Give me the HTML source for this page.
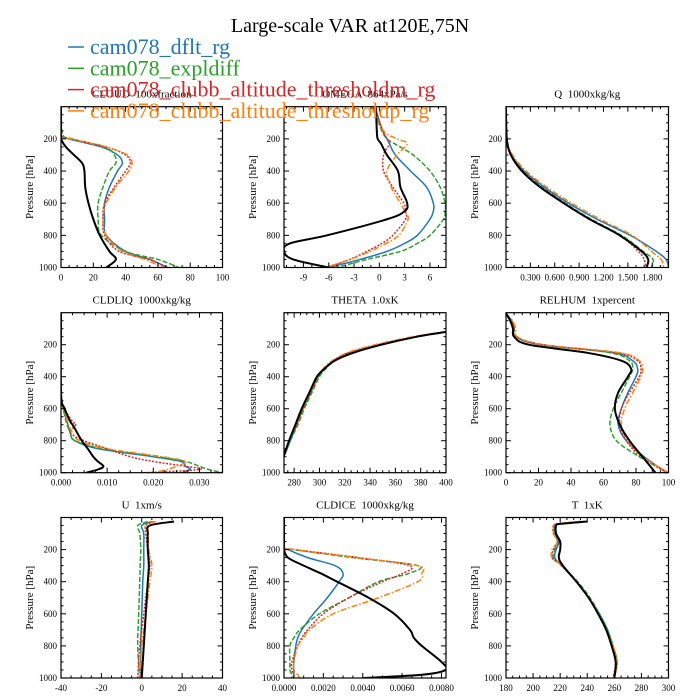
<!DOCTYPE html>
<html><head><meta charset="utf-8"><style>
html,body{margin:0;padding:0;background:#fff;}
svg{display:block;font-family:"Liberation Serif",serif;}
text{white-space:pre;}
</style></head><body>
<svg id="chart" width="700" height="700" viewBox="0 0 700 700">
<text x="350" y="32" text-anchor="middle" font-size="20">Large-scale VAR at120E,75N</text>
<g id="panels"></g>
<g id="legend"></g>
</svg>
<script>
const seriesNames = ["cam078_dflt_rg","cam078_expldiff","cam078_clubb_altitude_thresholdm_rg","cam078_clubb_altitude_thresholdp_rg","obs"];
const seriesColors = ["#1f77b4","#2ca02c","#d62728","#ff7f0e","#000000"];
const seriesDash = ["", "5,2", "2,1.5", "6,2,1.5,2", ""];
const seriesWidth = [1.5,1.5,1.5,1.5,2];

// CLOUD
const cloudP = [5,170,200,250,300,350,400,500,600,700,800,900,950,1000];
const cloudBlue = [0,0,5,25,35,38,35,30,27,27,28,40,55,66];
const cloudGreen = [0,1,7,27,33,34,30,26,23,23,25,40,60,73];
const cloudRed = [0,0,6,28,40,43,40,33,27,26,27,36,55,65];
const cloudOrange = [0,0,6,28,41,44,42,34,28,26,28,38,52,63];
const cloudBlack = [0,0,0,3,8,13,14.5,15,17,20,24,30,34,28];
// OMEGA
const omegaP = [5,150,200,230,300,400,500,600,650,700,800,850,900,950,1000];
const omegaBlue = [-0.5,0.4,0.9,1.2,1.9,3.7,5.6,6.4,6.4,6.0,4.5,3.0,0.9,-2.3,-6.0];
const omegaGreen = [-0.8,0.3,0.9,1.8,4.0,6.0,7.2,7.8,7.8,7.6,6.0,4.5,2.5,-1.5,-5.0];
const omegaRed = [-0.7,0.4,0.9,1.2,0.5,0.5,1.6,2.9,3.1,3.1,1.6,0.3,-1.5,-3.5,-6.2];
const omegaOrange = [-0.9,0.5,2.1,3.3,2.1,0.9,1.4,2.5,3.0,3.4,2.3,0.8,-1.1,-3.5,-6.4];
const omegaBlack = [-0.4,-0.3,-0.2,0.2,0.9,2.2,2.5,3.3,3.0,0.9,-6.2,-10.6,-11.3,-10.2,-6.0];
// Q
const qP = [5,200,300,400,500,600,700,800,900,950,1000];
const qBlue = [0,0.01,0.07,0.225,0.47,0.77,1.12,1.53,1.85,1.97,2.0];
const qGreen = [0,0.01,0.065,0.208,0.44,0.73,1.05,1.42,1.69,1.81,1.79];
const qRed = [0,0.01,0.06,0.196,0.43,0.72,1.04,1.40,1.63,1.70,1.72];
const qOrange = [0,0.01,0.08,0.249,0.50,0.81,1.16,1.55,1.79,1.91,1.94];
const qBlack = [0,0.01,0.06,0.196,0.42,0.71,1.03,1.40,1.67,1.75,1.73];
// CLDLIQ
const liqP = [5,500,600,680,700,750,800,850,900,930,960,980,1000];
const liqBlue = [0,0,0.0005,0.0013,0.0015,0.002,0.003,0.008,0.020,0.026,0.027,0.028,0.026];
const liqGreen = [0,0,0.0005,0.0011,0.0013,0.002,0.003,0.009,0.021,0.027,0.030,0.032,0.035];
const liqRed = [0,0,0.0008,0.0025,0.0032,0.002,0.005,0.010,0.015,0.020,0.027,0.030,0.018];
const liqOrange = [0,0,0.0006,0.0014,0.0016,0.0025,0.004,0.010,0.022,0.027,0.025,0.023,0.020];
const liqBlack = [0,0,0.0008,0.002,0.0025,0.0035,0.0045,0.0058,0.007,0.008,0.0092,0.008,0.0055];
// THETA
const thP = [120,150,200,250,300,350,400,500,600,700,800,900,1000];
const thBlue = [400,376,347,324,311,304,299,293,287,282,277,272,267];
const thGreen = [400,376,347,324,312,305,300,294,288,283,277,272,267];
const thRed = [400,375,346,323,311,304,299,293,287,282,276,271.5,266];
const thOrange = [400,374,344,322,310,303,298.5,292.5,286.5,281.5,276,271,266];
const thBlack = [400,377,349,327,312,304,298,292,286,281,276,271.5,266];
// RELHUM
const rhP = [5,50,100,150,200,250,300,350,400,500,600,700,800,900,1000];
const rhBlue = [0,3.5,5,6,21,66,78,81,80,75,71,69,74,85,99];
const rhGreen = [0,3.5,5,6,23,64,76,78,76,71,66,64,68,82,100];
const rhRed = [0,3.5,5,6,22,68,81,83,82,76,71,70,74,83,99];
const rhOrange = [0,4,6,7,23,70,82,84,83,78,73,71,75,84,100];
const rhBlack = [0,2.6,4.3,5,14,49.6,71,77,75,69,67,70,76,84,92];
// U
const uP = [25,50,100,200,300,400,600,800,1000];
const uBlue = [5,0,1,1,1,0.5,0,-0.5,-0.5];
const uGreen = [3,-2,-1,-0.5,-0.8,-1,-1.5,-2,-1];
const uRed = [6,2,2,3,4,3,1,-1,-2];
const uOrange = [7,2,3,3.5,5,4,2,0,-1];
const uBlack = [16,4,3,3,3.5,3,2,1,0];
// CLDICE
const iceP = [5,180,200,250,300,350,400,500,600,700,750,800,900,950,980,1000];
const iceBlue = [0,0,0.0002,0.0012,0.0026,0.0030,0.0028,0.0022,0.0015,0.0009,0.0007,0.0006,0.0005,0.0005,0.0005,0.0005];
const iceGreen = [0,0,0.0005,0.0035,0.0068,0.0063,0.0048,0.0033,0.0018,0.0008,0.0005,0.0003,0.0003,0.0003,0.0004,0.0004];
const iceRed = [0,0,0.0006,0.0038,0.0064,0.0060,0.0050,0.0033,0.0020,0.0012,0.0009,0.0007,0.0004,0.0004,0.0005,0.0005];
const iceOrange = [0,0,0.0005,0.0037,0.0068,0.0070,0.0068,0.0048,0.0025,0.0013,0.0010,0.0007,0.0005,0.0005,0.0007,0.0008];
const iceBlack = [0,0,0,0.0002,0.0010,0.0019,0.0027,0.0043,0.0056,0.0064,0.0066,0.0070,0.0080,0.0082,0.0070,0.0040];
// T
const tP = [25,40,50,100,150,200,250,300,400,500,600,700,800,900,1000];
const tBlue = [235,219,216,216,219,217,216,221,232,241,249,255,259,262,260];
const tGreen = [235,219,216,216,218,216,215,221,233,242,249,255,259,262,260];
const tRed = [235,218,215,215,218,215,214,221,232,241,248,254,258,261,259];
const tOrange = [235,218,215,215,218,214,214,221,232,241,248,254,259,262,260];
const tBlack = [240,220,217,217,220,220,219,222,232,241,248,254,258,261,260];

// tick labels
const cloudTicks = [0,20,40,60,80,100];
const cloudTickLabels = ["0","20","40","60","80","100"];
const omegaTicks = [-9,-6,-3,0,3,6];
const omegaTickLabels = ["-9","-6","-3","0","3","6"];
const qTicks = [0.3,0.6,0.9,1.2,1.5,1.8];
const qTickLabels = ["0.300","0.600","0.900","1.200","1.500","1.800"];
const liqTicks = [0,0.01,0.02,0.03];
const liqTickLabels = ["0.000","0.010","0.020","0.030"];
const thTicks = [280,300,320,340,360,380,400];
const thTickLabels = ["280","300","320","340","360","380","400"];
const rhTicks = [0,20,40,60,80,100];
const rhTickLabels = ["0","20","40","60","80","100"];
const uTicks = [-40,-20,0,20,40];
const uTickLabels = ["-40","-20","0","20","40"];
const iceTicks = [0,0.002,0.004,0.006,0.008];
const iceTickLabels = ["0.0000","0.0020","0.0040","0.0060","0.0080"];
const tTicks = [180,200,220,240,260,280,300];
const tTickLabels = ["180","200","220","240","260","280","300"];
const pTicks = [200,400,600,800,1000];
const pTickLabels = ["200","400","600","800","1000"];

const NS = "http://www.w3.org/2000/svg";
function mk(tag, attrs, parent){ const e=document.createElementNS(NS,tag); for(const k in attrs) e.setAttribute(k,attrs[k]); if(parent) parent.appendChild(e); return e; }
function smoothPath(pts){
  let d = "M"+pts[0][0].toFixed(2)+","+pts[0][1].toFixed(2);
  for(let i=0;i<pts.length-1;i++){
    const p0=pts[Math.max(0,i-1)], p1=pts[i], p2=pts[i+1], p3=pts[Math.min(pts.length-1,i+2)];
    const c1=[p1[0]+(p2[0]-p0[0])/6, p1[1]+(p2[1]-p0[1])/6];
    const c2=[p2[0]-(p3[0]-p1[0])/6, p2[1]-(p3[1]-p1[1])/6];
    d += " C"+c1[0].toFixed(2)+","+c1[1].toFixed(2)+" "+c2[0].toFixed(2)+","+c2[1].toFixed(2)+" "+p2[0].toFixed(2)+","+p2[1].toFixed(2);
  }
  return d;
}

const cols = [[61,222.5],[284,446],[506,668.5]];
const rows = [[106.7,267.5],[312.7,472.7],[517.5,678]];

const panelDefs = [
 {key:"cloud",title:"CLOUD  100xfraction",r:0,c:0,xmin:0,xmax:100,minor:5,P:cloudP,S:[cloudBlue,cloudGreen,cloudRed,cloudOrange,cloudBlack],ticks:cloudTicks,labels:cloudTickLabels},
 {key:"omega",title:"OMEGA  864xPa/s",r:0,c:1,xmin:-11.3,xmax:7.9,minor:1,P:omegaP,S:[omegaBlue,omegaGreen,omegaRed,omegaOrange,omegaBlack],ticks:omegaTicks,labels:omegaTickLabels},
 {key:"q",title:"Q  1000xkg/kg",r:0,c:2,xmin:0,xmax:2.0,minor:0.1,P:qP,S:[qBlue,qGreen,qRed,qOrange,qBlack],ticks:qTicks,labels:qTickLabels},
 {key:"cldliq",title:"CLDLIQ  1000xkg/kg",r:1,c:0,xmin:0,xmax:0.035,minor:0.0025,P:liqP,S:[liqBlue,liqGreen,liqRed,liqOrange,liqBlack],ticks:liqTicks,labels:liqTickLabels},
 {key:"theta",title:"THETA  1.0xK",r:1,c:1,xmin:272,xmax:400,minor:5,P:thP,S:[thBlue,thGreen,thRed,thOrange,thBlack],ticks:thTicks,labels:thTickLabels},
 {key:"relhum",title:"RELHUM  1xpercent",r:1,c:2,xmin:0,xmax:100,minor:5,P:rhP,S:[rhBlue,rhGreen,rhRed,rhOrange,rhBlack],ticks:rhTicks,labels:rhTickLabels},
 {key:"u",title:"U  1xm/s",r:2,c:0,xmin:-40,xmax:40,minor:5,P:uP,S:[uBlue,uGreen,uRed,uOrange,uBlack],ticks:uTicks,labels:uTickLabels},
 {key:"cldice",title:"CLDICE  1000xkg/kg",r:2,c:1,xmin:0,xmax:0.00823,minor:0.0005,P:iceP,S:[iceBlue,iceGreen,iceRed,iceOrange,iceBlack],ticks:iceTicks,labels:iceTickLabels},
 {key:"t",title:"T  1xK",r:2,c:2,xmin:180,xmax:300,minor:5,P:tP,S:[tBlue,tGreen,tRed,tOrange,tBlack],ticks:tTicks,labels:tTickLabels}
];

const root = document.getElementById("panels");
const defs = mk("defs",{},document.getElementById("chart"));
panelDefs.forEach(pd=>{
  const [x0,x1]=cols[pd.c], [y0,y1]=rows[pd.r];
  const xs = v => x0 + (v-pd.xmin)/(pd.xmax-pd.xmin)*(x1-x0);
  const ys = p => y0 + p/1000*(y1-y0);
  const g = mk("g",{},root);
  
  
  const cp = mk("clipPath",{id:"clip-"+pd.key},defs);
  mk("rect",{x:x0,y:y0,width:x1-x0,height:y1-y0},cp);
  const t = mk("text",{x:(x0+x1)/2,y:y0-9,"text-anchor":"middle","font-size":"11"},g);
  t.textContent = pd.title;
  
  
  const lg = mk("g",{"clip-path":"url(#clip-"+pd.key+")"},g);
  
  
  [0,1,2,3,4].forEach(si=>{
    const vals = pd.S[si];
    const pts = vals.map((v,i)=>[xs(v), ys(pd.P[i])]);
    const pl = mk("path",{d:smoothPath(pts),fill:"none",stroke:seriesColors[si],"stroke-width":seriesWidth[si],"stroke-linejoin":"round"},lg);
    if(seriesDash[si]) pl.setAttribute("stroke-dasharray",seriesDash[si]);
    
    
  });
  const fr = mk("rect",{x:x0,y:y0,width:x1-x0,height:y1-y0,fill:"none",stroke:"#000","stroke-width":"1.2"},g);
  
  
  const tg = mk("g",{stroke:"#000","stroke-width":"1"},g);
  
  
  const start = Math.ceil(pd.xmin/pd.minor);
  for(let k=start; k*pd.minor<=pd.xmax+1e-12; k++){
    const v=k*pd.minor, X=xs(v);
    const major = pd.ticks.some(tv=>Math.abs(tv-v)<pd.minor*0.01);
    const L = major?5:2.5;
    mk("line",{x1:X,y1:y1,x2:X,y2:y1-L},tg); mk("line",{x1:X,y1:y0,x2:X,y2:y0+L},tg);
  }
  for(let p=50;p<=1000;p+=50){
    const Y=ys(p); const L=(p%200===0)?5:2.5;
    mk("line",{x1:x0,y1:Y,x2:x0+L,y2:Y},tg); mk("line",{x1:x1,y1:Y,x2:x1-L,y2:Y},tg);
  }
  const xl = mk("g",{"font-size":"9","text-anchor":"middle"},g);
  
  
  pd.ticks.forEach((tv,i)=>{ const e=mk("text",{x:xs(tv),y:y1+13},xl); e.textContent=pd.labels[i]; });
  const yl = mk("g",{"font-size":"9","text-anchor":"end"},g);
  
  
  pTicks.forEach((p,i)=>{ const e=mk("text",{x:x0-4,y:ys(p)+3},yl); e.textContent=pTickLabels[i]; });
  const yt = mk("text",{x:0,y:0,"font-size":"11","text-anchor":"middle",transform:"translate("+(x0-28)+","+((y0+y1)/2)+") rotate(-90)"},g);
  yt.textContent="Pressure [hPa]";
  
  
});

const leg = document.getElementById("legend");
[0,1,2,3].forEach(i=>{
  const Y = 47 + i*21.3;
  const g = mk("g",{},leg);
  
  
  mk("line",{x1:68,y1:Y,x2:84,y2:Y,stroke:seriesColors[i],"stroke-width":"1.5"},g);
  const t = mk("text",{x:90,y:Y+7,"font-size":"22",fill:seriesColors[i]},g);
  t.textContent = seriesNames[i];
});
</script>
</body></html>
